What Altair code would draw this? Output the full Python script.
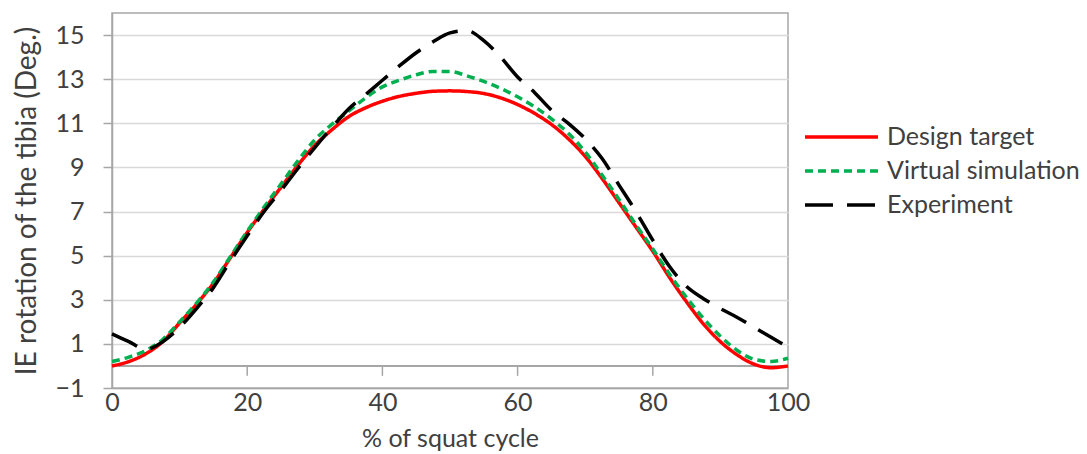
import altair as alt
import pandas as pd

x_pct = [0, 2.5, 5, 7.5, 10, 12.5, 15, 17.5, 20, 22.5, 25, 27.5, 30, 32.5, 35, 37.5,
         40, 42.5, 45, 47.5, 50, 52.5, 55, 57.5, 60, 62.5, 65, 67.5, 70, 72.5, 75,
         77.5, 80, 82.5, 85, 87.5, 90, 92.5, 95, 97.5, 100]

design_target = [0.0, 0.2, 0.55, 1.1, 1.95, 2.8, 3.75, 4.9, 6.05, 7.1, 8.1, 9.1, 10.0,
                 10.7, 11.3, 11.7, 12.0, 12.22, 12.36, 12.45, 12.47, 12.44, 12.35,
                 12.15, 11.85, 11.45, 10.95, 10.3, 9.5, 8.5, 7.4, 6.3, 5.2, 4.0, 2.9,
                 1.9, 1.1, 0.5, 0.08, -0.08, 0.0]

virtual_simulation = [0.2, 0.4, 0.7, 1.2, 2.0, 2.85, 3.8, 4.95, 6.1, 7.2, 8.25, 9.3,
                      10.25, 10.95, 11.55, 12.15, 12.65, 12.95, 13.2, 13.35, 13.35,
                      13.15, 12.9, 12.58, 12.2, 11.75, 11.2, 10.55, 9.7, 8.65, 7.55,
                      6.4, 5.3, 4.15, 3.1, 2.15, 1.35, 0.7, 0.3, 0.2, 0.35]

experiment = [1.45, 1.1, 0.75, 1.1, 1.75, 2.6, 3.55, 4.75, 5.9, 7.0, 7.95, 8.95, 9.9,
              10.8, 11.65, 12.3, 12.95, 13.6, 14.2, 14.7, 15.1, 15.2, 14.75, 14.0,
              13.1, 12.4, 11.6, 11.0, 10.3, 9.4, 8.2, 7.0, 5.7, 4.5, 3.6, 3.05, 2.6,
              2.2, 1.75, 1.3, 0.85]

series_names = ["Design target", "Virtual simulation", "Experiment"]
series_colors = ["#ff0000", "#00b050", "#000000"]
series_dashes = [[1, 0], [8, 5], [28, 14]]

y_ticks = [-1, 1, 3, 5, 7, 9, 11, 13, 15]
x_ticks = [0, 20, 40, 60, 80, 100]
x_inner_ticks = [20, 40, 60, 80]

rows = []
for name, vals in zip(series_names, [design_target, virtual_simulation, experiment]):
    for xv, yv in zip(x_pct, vals):
        rows.append({"x": xv, "y": yv, "series": name})
df = pd.DataFrame(rows)
tick_df = pd.DataFrame({"x": x_inner_ticks})

FONT = "Lato"
FS = 25
TXT = "#404040"
GRID = "#d9d9d9"
AXC = "#a6a6a6"

x_scale = alt.Scale(domain=[0, 100], nice=False, zero=False)
y_scale = alt.Scale(domain=[-1, 16], nice=False, zero=False)

x_axis = alt.Axis(values=x_ticks, title="% of squat cycle", grid=False,
                  ticks=False, tickSize=0, domain=True, domainColor=AXC,
                  domainWidth=1.5, labelFlush=False,
                  labelFont=FONT, labelFontSize=FS, labelColor=TXT,
                  labelPadding=2, titleFont=FONT, titleFontSize=FS,
                  titleFontWeight="normal", titleColor=TXT,
                  titleBaseline="middle", titleY=50)

y_axis = alt.Axis(values=y_ticks, title="IE rotation of the tibia (Deg.)",
                  grid=True, gridColor=GRID, gridWidth=1.5,
                  ticks=True, tickSize=9, tickColor=AXC, tickWidth=1.5,
                  domainColor=AXC, domainWidth=1.5, labelFlush=False,
                  labelAlign="right", labelBaseline="middle",
                  labelFont=FONT, labelFontSize=FS, labelColor=TXT,
                  labelPadding=19, titleFont=FONT, titleFontSize=28,
                  titleFontWeight="normal", titleColor=TXT,
                  titleBaseline="middle", titleX=-85)

legend = alt.Legend(
    title=None, orient="none", legendX=691, legendY=107,
    symbolType="stroke", symbolSize=5329, symbolStrokeWidth=3.5,
    clipHeight=34, rowPadding=0, labelOffset=7,
    labelFont=FONT, labelFontSize=FS, labelColor=TXT, labelLimit=400,
)

lines = alt.Chart(df).mark_line(strokeWidth=3.5, interpolate="monotone").encode(
    x=alt.X("x:Q", scale=x_scale, axis=x_axis, title="% of squat cycle"),
    y=alt.Y("y:Q", scale=y_scale, axis=y_axis, title="IE rotation of the tibia (Deg.)"),
    color=alt.Color("series:N", scale=alt.Scale(domain=series_names, range=series_colors),
                    legend=legend),
    strokeDash=alt.StrokeDash("series:N",
                              scale=alt.Scale(domain=series_names, range=series_dashes),
                              legend=legend),
)

zero_line = alt.Chart(tick_df).mark_rule(color=AXC, strokeWidth=1.5).encode(
    y=alt.Y(datum=0, scale=y_scale, axis=y_axis, title="IE rotation of the tibia (Deg.)"),
)

zero_ticks = alt.Chart(tick_df).mark_rule(color=AXC, strokeWidth=1.5).encode(
    x=alt.X("x:Q", scale=x_scale, axis=x_axis, title="% of squat cycle"),
    y=alt.Y(datum=0, scale=y_scale, axis=y_axis, title="IE rotation of the tibia (Deg.)"),
    y2=alt.Y2(datum=-0.45),
)

chart = alt.layer(zero_line, zero_ticks, lines).properties(
    width=676, height=375,
    autosize=alt.AutoSizeParams(type="none"),
    padding={"left": 112, "top": 13, "right": 299, "bottom": 66},
    background="white",
).configure_view(stroke=AXC, strokeWidth=1.5)

chart.save("out.html", embed_options={"renderer": "svg", "actions": False})
